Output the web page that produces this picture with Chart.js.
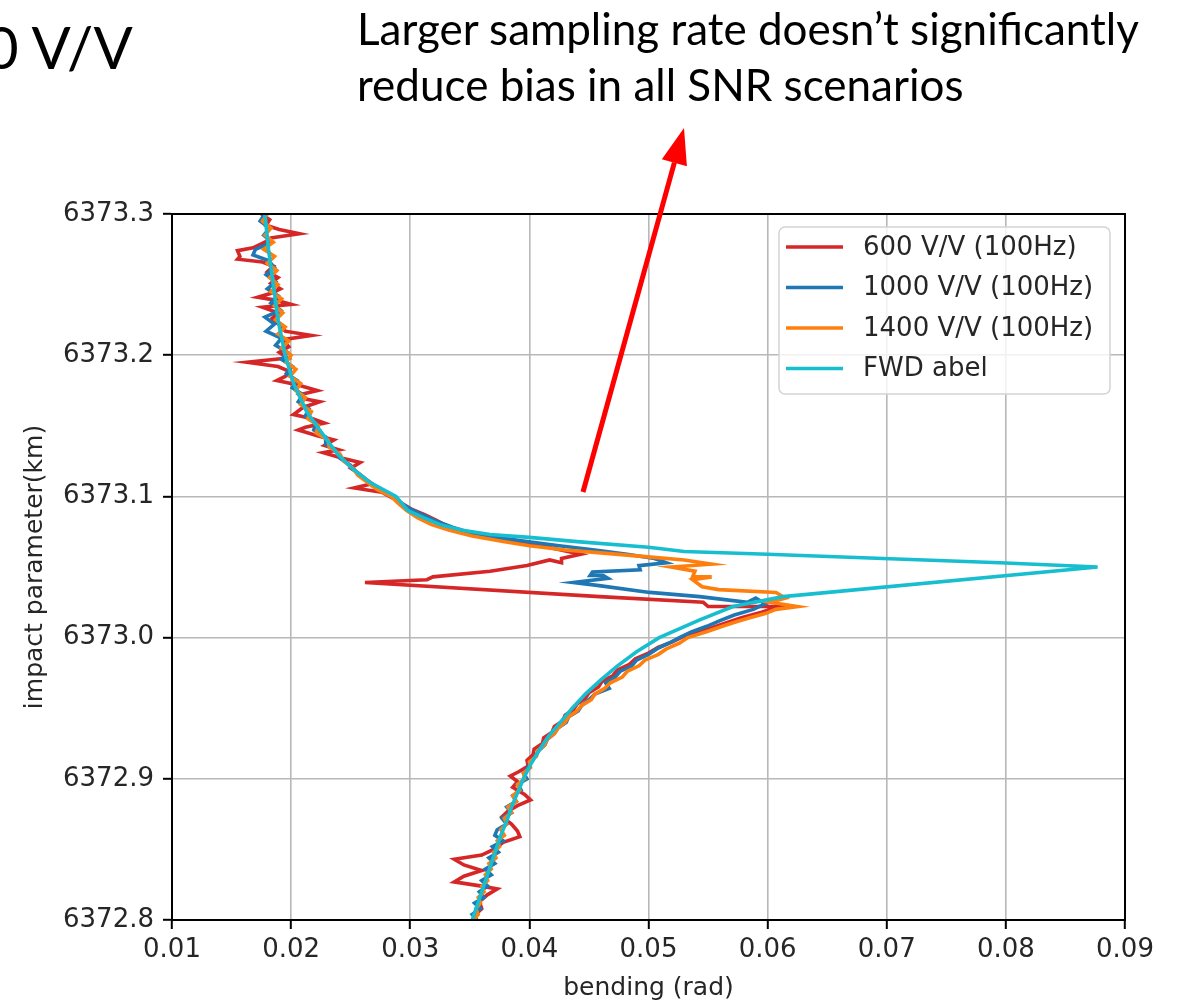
<!DOCTYPE html>
<html>
<head>
<meta charset="utf-8">
<script src="https://cdn.jsdelivr.net/npm/chart.js@4.4.1/dist/chart.umd.min.js"></script>
<style>
	html, body { margin: 0; padding: 0; background: #fff; }
	#wrap { position: relative; width: 1183px; height: 1003px; overflow: hidden; }
	#plot { position: absolute; left: 0; top: 0; }
	.note { position: absolute; font-family: Lato, "Open Sans", sans-serif; color: #000; white-space: nowrap; }
	#title { left: -15px; top: 18px; font-size: 58px; line-height: 1; }
	#remark { left: 357px; top: 0; font-size: 44px; line-height: 56px; }
</style>
</head>
<body>
<div id="wrap">
	<canvas id="plot" width="1183" height="1003"></canvas>
	<div class="note" id="title">0 V/V</div>
	<div class="note" id="remark">Larger sampling rate doesn’t significantly<br>reduce bias in all SNR scenarios</div>
</div>
<script>
	const bendTicks = [ 0.01, 0.02, 0.03, 0.04, 0.05, 0.06, 0.07, 0.08, 0.09 ];
	const impactTicks = [ 6372.8, 6372.9, 6373.0, 6373.1, 6373.2, 6373.3 ];
	const seriesLabels = [ '600 V/V (100Hz)', '1000 V/V (100Hz)', '1400 V/V (100Hz)', 'FWD abel' ];
	const seriesColors = [ '#d62728', '#1f77b4', '#ff7f0e', '#17becf' ];

	// rows are [bending (rad), impact parameter (km)]
	const snr600 = [
		[0.0175, 6373.300], [0.0182, 6373.296], [0.0179, 6373.292], [0.0190, 6373.289], [0.0207, 6373.286],
		[0.0183, 6373.283], [0.0178, 6373.280], [0.0168, 6373.276], [0.0155, 6373.274], [0.0157, 6373.270],
		[0.0155, 6373.268], [0.0176, 6373.266], [0.0185, 6373.263], [0.0180, 6373.259], [0.0189, 6373.255],
		[0.0183, 6373.251], [0.0191, 6373.247], [0.0184, 6373.244], [0.0172, 6373.241], [0.0187, 6373.239],
		[0.0200, 6373.236], [0.0176, 6373.234], [0.0189, 6373.230], [0.0184, 6373.226], [0.0191, 6373.221],
		[0.0195, 6373.217], [0.0217, 6373.214], [0.0193, 6373.211], [0.0198, 6373.206], [0.0190, 6373.202],
		[0.0197, 6373.198], [0.0163, 6373.195], [0.0189, 6373.192], [0.0200, 6373.188], [0.0195, 6373.185],
		[0.0188, 6373.182], [0.0205, 6373.179], [0.0222, 6373.175], [0.0207, 6373.172], [0.0212, 6373.169],
		[0.0224, 6373.167], [0.0210, 6373.163], [0.0202, 6373.158], [0.0218, 6373.155], [0.0228, 6373.152],
		[0.0212, 6373.149], [0.0206, 6373.147], [0.0222, 6373.143], [0.0236, 6373.140], [0.0228, 6373.136],
		[0.0240, 6373.133], [0.0227, 6373.131], [0.0243, 6373.127], [0.0258, 6373.124], [0.0250, 6373.120],
		[0.0257, 6373.116], [0.0263, 6373.112], [0.0268, 6373.109], [0.0253, 6373.106], [0.0276, 6373.103],
		[0.0285, 6373.099], [0.0293, 6373.095], [0.0301, 6373.091], [0.0312, 6373.087], [0.0322, 6373.083],
		[0.0331, 6373.079], [0.0345, 6373.075], [0.0362, 6373.072], [0.0385, 6373.068], [0.0410, 6373.065],
		[0.0443, 6373.059], [0.0427, 6373.056], [0.0427, 6373.053], [0.0417, 6373.055], [0.0398, 6373.051],
		[0.0367, 6373.047], [0.0319, 6373.043], [0.0314, 6373.041], [0.0262, 6373.039], [0.0459, 6373.029],
		[0.0546, 6373.025], [0.0550, 6373.022], [0.0610, 6373.022], [0.0595, 6373.018], [0.0578, 6373.014],
		[0.0560, 6373.009], [0.0547, 6373.005], [0.0530, 6373.001], [0.0520, 6372.997], [0.0508, 6372.993],
		[0.0500, 6372.989], [0.0489, 6372.985], [0.0484, 6372.981], [0.0474, 6372.977], [0.0470, 6372.973],
		[0.0461, 6372.969], [0.0458, 6372.965], [0.0450, 6372.961], [0.0447, 6372.957], [0.0440, 6372.953],
		[0.0437, 6372.949], [0.0430, 6372.945], [0.0428, 6372.941], [0.0421, 6372.937], [0.0419, 6372.933],
		[0.0412, 6372.929], [0.0411, 6372.925], [0.0404, 6372.921], [0.0403, 6372.917], [0.0398, 6372.913],
		[0.0399, 6372.909], [0.0391, 6372.905], [0.0384, 6372.902], [0.0390, 6372.898], [0.0386, 6372.894],
		[0.0396, 6372.889], [0.0401, 6372.885], [0.0390, 6372.881], [0.0382, 6372.877], [0.0377, 6372.873],
		[0.0385, 6372.868], [0.0390, 6372.863], [0.0392, 6372.859], [0.0378, 6372.855], [0.0370, 6372.850],
		[0.0360, 6372.846], [0.0337, 6372.843], [0.0345, 6372.839], [0.0360, 6372.835], [0.0345, 6372.831],
		[0.0337, 6372.827], [0.0360, 6372.824], [0.0373, 6372.822], [0.0365, 6372.818], [0.0358, 6372.813],
		[0.0360, 6372.808], [0.0355, 6372.804], [0.0353, 6372.800],
	];

	const snr1000 = [
		[0.0178, 6373.300], [0.0174, 6373.295], [0.0182, 6373.290], [0.0177, 6373.285], [0.0184, 6373.280],
		[0.0170, 6373.275], [0.0168, 6373.271], [0.0181, 6373.267], [0.0186, 6373.262], [0.0179, 6373.257],
		[0.0187, 6373.252], [0.0180, 6373.247], [0.0189, 6373.242], [0.0183, 6373.237], [0.0191, 6373.232],
		[0.0178, 6373.227], [0.0186, 6373.222], [0.0179, 6373.217], [0.0192, 6373.212], [0.0187, 6373.207],
		[0.0197, 6373.202], [0.0192, 6373.197], [0.0201, 6373.192], [0.0196, 6373.187], [0.0205, 6373.182],
		[0.0201, 6373.177], [0.0210, 6373.172], [0.0206, 6373.167], [0.0215, 6373.162], [0.0212, 6373.157],
		[0.0221, 6373.152], [0.0219, 6373.147], [0.0229, 6373.142], [0.0229, 6373.137], [0.0238, 6373.132],
		[0.0241, 6373.127], [0.0250, 6373.122], [0.0255, 6373.117], [0.0262, 6373.112], [0.0270, 6373.107],
		[0.0281, 6373.102], [0.0290, 6373.097], [0.0298, 6373.092], [0.0310, 6373.087], [0.0323, 6373.082],
		[0.0336, 6373.078], [0.0352, 6373.074], [0.0372, 6373.071], [0.0398, 6373.068], [0.0425, 6373.065],
		[0.0455, 6373.062], [0.0482, 6373.059], [0.0505, 6373.056], [0.0515, 6373.053], [0.0492, 6373.051],
		[0.0493, 6373.048], [0.0453, 6373.0465], [0.0451, 6373.044], [0.0462, 6373.044], [0.0466, 6373.042],
		[0.0437, 6373.039], [0.0457, 6373.037], [0.0501, 6373.032], [0.0543, 6373.029], [0.0583, 6373.025],
		[0.0590, 6373.028], [0.0598, 6373.024], [0.0588, 6373.020], [0.0572, 6373.016], [0.0560, 6373.012],
		[0.0549, 6373.008], [0.0536, 6373.004], [0.0526, 6373.000], [0.0517, 6372.996], [0.0507, 6372.992],
		[0.0500, 6372.988], [0.0490, 6372.984], [0.0486, 6372.980], [0.0476, 6372.976], [0.0472, 6372.972],
		[0.0464, 6372.968], [0.0467, 6372.964], [0.0455, 6372.960], [0.0450, 6372.956], [0.0444, 6372.952],
		[0.0441, 6372.948], [0.0433, 6372.944], [0.0431, 6372.940], [0.0424, 6372.936], [0.0421, 6372.932],
		[0.0415, 6372.928], [0.0413, 6372.924], [0.0408, 6372.920], [0.0405, 6372.916], [0.0401, 6372.912],
		[0.0399, 6372.908], [0.0395, 6372.904], [0.0398, 6372.900], [0.0390, 6372.896], [0.0393, 6372.892],
		[0.0386, 6372.888], [0.0389, 6372.884], [0.0381, 6372.880], [0.0385, 6372.876], [0.0377, 6372.872],
		[0.0381, 6372.868], [0.0373, 6372.864], [0.0371, 6372.860], [0.0378, 6372.856], [0.0369, 6372.852],
		[0.0374, 6372.848], [0.0366, 6372.844], [0.0371, 6372.840], [0.0363, 6372.836], [0.0368, 6372.832],
		[0.0360, 6372.828], [0.0365, 6372.824], [0.0358, 6372.820], [0.0362, 6372.816], [0.0354, 6372.812],
		[0.0359, 6372.808], [0.0352, 6372.804], [0.0356, 6372.800],
	];

	const snr1400 = [
		[0.0180, 6373.300], [0.0176, 6373.295], [0.0183, 6373.290], [0.0178, 6373.285], [0.0185, 6373.280],
		[0.0177, 6373.275], [0.0186, 6373.270], [0.0180, 6373.265], [0.0188, 6373.260], [0.0182, 6373.255],
		[0.0189, 6373.250], [0.0183, 6373.245], [0.0192, 6373.240], [0.0186, 6373.235], [0.0193, 6373.230],
		[0.0187, 6373.225], [0.0195, 6373.220], [0.0189, 6373.215], [0.0198, 6373.210], [0.0192, 6373.205],
		[0.0200, 6373.200], [0.0196, 6373.195], [0.0204, 6373.190], [0.0199, 6373.185], [0.0208, 6373.180],
		[0.0204, 6373.175], [0.0212, 6373.170], [0.0208, 6373.165], [0.0217, 6373.160], [0.0214, 6373.155],
		[0.0223, 6373.150], [0.0221, 6373.145], [0.0231, 6373.140], [0.0232, 6373.135], [0.0241, 6373.130],
		[0.0244, 6373.125], [0.0252, 6373.120], [0.0256, 6373.115], [0.0264, 6373.110], [0.0272, 6373.105],
		[0.0284, 6373.100], [0.0290, 6373.095], [0.0297, 6373.090], [0.0306, 6373.085], [0.0318, 6373.080],
		[0.0333, 6373.076], [0.0352, 6373.072], [0.0378, 6373.068], [0.0400, 6373.065], [0.0430, 6373.062],
		[0.0460, 6373.060], [0.0502, 6373.057], [0.0530, 6373.055], [0.0553, 6373.052], [0.0519, 6373.050],
		[0.0539, 6373.047], [0.0537, 6373.043], [0.0553, 6373.043], [0.0537, 6373.041], [0.0545, 6373.036],
		[0.0559, 6373.034], [0.0607, 6373.032], [0.0615, 6373.028], [0.0602, 6373.025], [0.0625, 6373.022],
		[0.0607, 6373.020], [0.0598, 6373.017], [0.0585, 6373.014], [0.0573, 6373.011], [0.0562, 6373.008],
		[0.0548, 6373.004], [0.0533, 6373.000], [0.0526, 6372.996], [0.0515, 6372.992], [0.0508, 6372.988],
		[0.0497, 6372.984], [0.0492, 6372.980], [0.0482, 6372.976], [0.0478, 6372.972], [0.0468, 6372.968],
		[0.0463, 6372.964], [0.0455, 6372.960], [0.0452, 6372.956], [0.0444, 6372.952], [0.0440, 6372.948],
		[0.0433, 6372.944], [0.0430, 6372.940], [0.0424, 6372.936], [0.0421, 6372.932], [0.0415, 6372.928],
		[0.0413, 6372.924], [0.0407, 6372.920], [0.0406, 6372.916], [0.0400, 6372.912], [0.0401, 6372.908],
		[0.0395, 6372.904], [0.0396, 6372.900], [0.0390, 6372.896], [0.0392, 6372.892], [0.0386, 6372.888],
		[0.0389, 6372.884], [0.0382, 6372.880], [0.0385, 6372.876], [0.0379, 6372.872], [0.0381, 6372.868],
		[0.0376, 6372.864], [0.0379, 6372.860], [0.0373, 6372.856], [0.0375, 6372.852], [0.0370, 6372.848],
		[0.0372, 6372.844], [0.0366, 6372.840], [0.0368, 6372.836], [0.0363, 6372.832], [0.0365, 6372.828],
		[0.0360, 6372.824], [0.0362, 6372.820], [0.0357, 6372.816], [0.0359, 6372.812], [0.0355, 6372.808],
		[0.0357, 6372.804], [0.0353, 6372.800],
	];

	const fwdAbel = [
		[0.0178, 6373.300], [0.0181, 6373.275], [0.0185, 6373.250], [0.0189, 6373.225], [0.0195, 6373.200],
		[0.0202, 6373.180], [0.0213, 6373.160], [0.0230, 6373.140], [0.0239, 6373.130], [0.0251, 6373.120],
		[0.0266, 6373.110], [0.0288, 6373.100], [0.0298, 6373.090], [0.0311, 6373.085], [0.0325, 6373.080],
		[0.0344, 6373.076], [0.0367, 6373.073], [0.0400, 6373.071], [0.0440, 6373.068], [0.0500, 6373.064],
		[0.0530, 6373.061], [0.0600, 6373.059], [0.0697, 6373.056], [0.0795, 6373.053], [0.0877, 6373.050],
		[0.0613, 6373.029], [0.0571, 6373.022], [0.0543, 6373.0125], [0.0509, 6373.000], [0.0490, 6372.990],
		[0.0474, 6372.980], [0.0460, 6372.970], [0.0447, 6372.960], [0.0436, 6372.950], [0.0426, 6372.940],
		[0.0416, 6372.930], [0.0408, 6372.920], [0.0401, 6372.910], [0.0395, 6372.900], [0.0390, 6372.890],
		[0.0385, 6372.880], [0.0381, 6372.870], [0.0376, 6372.860], [0.0372, 6372.850], [0.0368, 6372.840],
		[0.0364, 6372.830], [0.0360, 6372.820], [0.0356, 6372.810], [0.0352, 6372.800],
	];

	const toPoints = ( rows ) => rows.map( ( [ x, y ] ) => ( { x, y } ) );
	const tickFont = { family: '"DejaVu Sans", sans-serif', size: 26 };
	const titleFont = { family: '"DejaVu Sans", sans-serif', size: 25 };
	const inkColor = '#262626';

	// matplotlib draws a spine on all four sides
	const framePlugin = {
		id: 'frame',
		afterDatasetsDraw( chart ) {
			const { ctx, chartArea: a } = chart;
			ctx.save();
			ctx.strokeStyle = '#000';
			ctx.lineWidth = 2;
			ctx.strokeRect( a.left, a.top, a.right - a.left, a.bottom - a.top );
			ctx.restore();
		},
	};

	// legend box in the upper right corner of the axes
	const boxLegendPlugin = {
		id: 'boxLegend',
		afterDraw( chart ) {
			const { ctx } = chart;
			ctx.save();
			ctx.beginPath();
			ctx.roundRect( 779, 227, 331, 167, 6 );
			ctx.fillStyle = 'rgba(255,255,255,0.8)';
			ctx.fill();
			ctx.strokeStyle = '#d4d4d4';
			ctx.lineWidth = 1.5;
			ctx.stroke();
			ctx.font = '26px "DejaVu Sans", sans-serif';
			ctx.textBaseline = 'middle';
			chart.data.datasets.forEach( ( ds, i ) => {
				const rowY = 247 + i * 40.5;
				ctx.strokeStyle = ds.borderColor;
				ctx.lineWidth = ds.borderWidth;
				ctx.beginPath();
				ctx.moveTo( 786, rowY );
				ctx.lineTo( 843, rowY );
				ctx.stroke();
				ctx.fillStyle = inkColor;
				ctx.fillText( ds.label, 863, rowY + 1 );
			} );
			ctx.restore();
		},
	};

	// red callout arrow pointing at the remark
	const arrowPlugin = {
		id: 'callout',
		afterDraw( chart ) {
			const { ctx } = chart;
			const tail = [ 583, 492 ], tip = [ 684, 128 ];
			const dx = tip[ 0 ] - tail[ 0 ], dy = tip[ 1 ] - tail[ 1 ];
			const len = Math.hypot( dx, dy ), ux = dx / len, uy = dy / len;
			const bx = tip[ 0 ] - ux * 36, by = tip[ 1 ] - uy * 36;
			ctx.save();
			ctx.strokeStyle = '#ff0000';
			ctx.fillStyle = '#ff0000';
			ctx.lineWidth = 5;
			ctx.beginPath();
			ctx.moveTo( tail[ 0 ], tail[ 1 ] );
			ctx.lineTo( bx, by );
			ctx.stroke();
			ctx.beginPath();
			ctx.moveTo( tip[ 0 ], tip[ 1 ] );
			ctx.lineTo( bx - uy * 13, by + ux * 13 );
			ctx.lineTo( bx + uy * 13, by - ux * 13 );
			ctx.closePath();
			ctx.fill();
			ctx.restore();
		},
	};

	const allSeries = [ snr600, snr1000, snr1400, fwdAbel ];

	new Chart( document.getElementById( 'plot' ), {
		type: 'scatter',
		data: {
			datasets: allSeries.map( ( rows, i ) => ( {
				label: seriesLabels[ i ],
				data: toPoints( rows ),
				showLine: true,
				borderColor: seriesColors[ i ],
				backgroundColor: seriesColors[ i ],
				borderWidth: 3.6,
				pointRadius: 0,
				tension: 0,
				clip: 0,
				order: allSeries.length - i,
			} ) ),
		},
		options: {
			responsive: false,
			animation: false,
			layout: { padding: { left: 0, top: 214, right: 58, bottom: 0 } },
			plugins: { legend: { display: false }, tooltip: { enabled: false } },
			scales: {
				x: {
					type: 'linear',
					min: 0.01,
					max: 0.09,
					afterBuildTicks: ( s ) => { s.ticks = bendTicks.map( ( v ) => ( { value: v } ) ); },
					afterFit: ( s ) => { s.height = 83; },
					ticks: { callback: ( v ) => v.toFixed( 2 ), font: tickFont, color: inkColor, padding: 6, maxRotation: 0, autoSkip: false },
					grid: { color: '#b8b8b8', lineWidth: 1.6, tickColor: '#000', tickLength: 9, tickWidth: 2 },
					border: { color: '#000', width: 2 },
					title: { display: true, text: 'bending (rad)', font: titleFont, color: inkColor, padding: { top: 0, bottom: 0 } },
				},
				y: {
					type: 'linear',
					min: 6372.8,
					max: 6373.3,
					afterBuildTicks: ( s ) => { s.ticks = impactTicks.map( ( v ) => ( { value: v } ) ); },
					afterFit: ( s ) => { s.width = 172; },
					ticks: { callback: ( v ) => v.toFixed( 1 ), font: tickFont, color: inkColor, padding: 9, autoSkip: false },
					grid: { color: '#b8b8b8', lineWidth: 1.6, tickColor: '#000', tickLength: 9, tickWidth: 2 },
					border: { color: '#000', width: 2 },
					title: { display: true, text: 'impact parameter(km)', font: titleFont, color: inkColor, padding: { top: 20, bottom: 0 } },
				},
			},
		},
		plugins: [ framePlugin, boxLegendPlugin, arrowPlugin ],
	} );
</script>
</body>
</html>
